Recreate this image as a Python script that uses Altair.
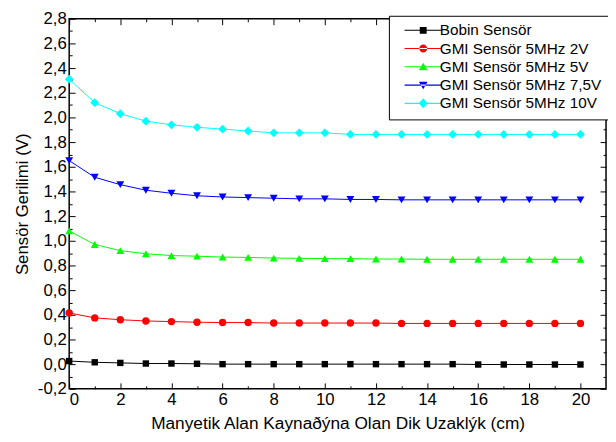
import altair as alt
import pandas as pd

# ---------------- data ----------------
x_cm = list(range(21))
series_names = ["Bobin Sensör", "GMI Sensör 5MHz 2V", "GMI Sensör 5MHz 5V",
                "GMI Sensör 5MHz 7,5V", "GMI Sensör 5MHz 10V"]
bobin = [0.025, 0.015, 0.01, 0.005, 0.005, 0.003, 0.0, 0.0, 0.0, 0.0, 0.0,
         0.0, 0.0, 0.0, 0.0, 0.0, -0.003, -0.003, -0.003, -0.003, -0.003]
gmi_2v = [0.415, 0.375, 0.36, 0.35, 0.345, 0.34, 0.337, 0.337, 0.333, 0.333, 0.333,
          0.333, 0.333, 0.33, 0.33, 0.33, 0.33, 0.33, 0.33, 0.33, 0.33]
gmi_5v = [1.08, 0.97, 0.92, 0.895, 0.88, 0.875, 0.868, 0.865, 0.86, 0.858, 0.855,
          0.855, 0.852, 0.852, 0.85, 0.85, 0.85, 0.85, 0.85, 0.85, 0.85]
gmi_75v = [1.65, 1.515, 1.455, 1.41, 1.385, 1.365, 1.355, 1.35, 1.345, 1.34, 1.34,
           1.335, 1.335, 1.332, 1.332, 1.332, 1.332, 1.332, 1.332, 1.332, 1.332]
gmi_10v = [2.31, 2.12, 2.03, 1.97, 1.94, 1.92, 1.905, 1.89, 1.875, 1.875, 1.875,
           1.862, 1.862, 1.862, 1.862, 1.862, 1.862, 1.862, 1.862, 1.862, 1.862]

x_major = list(range(0, 21, 2))
x_minor = list(range(1, 21, 2))
y_major = [round(-0.2 + 0.2 * i, 1) for i in range(16)]
y_minor = [round(-0.1 + 0.2 * i, 1) for i in range(15)]

x_title = "Manyetik Alan Kaynaðýna Olan Dik Uzaklýk (cm)"
y_title = "Sensör Gerilimi (V)"

# ---------------- styles ----------------
colors = ["#000000", "#ff0000", "#00ff00", "#0000ff", "#00ffff"]
shapes = ["square", "circle", "triangle-up", "triangle-down", "diamond"]
sizes = [42, 56, 64, 64, 80]
FONT = "Liberation Sans"

line_bar = "M-5.4,-0.15H5.4V0.15H-5.4Z "
legend_paths = [
    line_bar + "M-1,-1H1V1H-1Z",
    line_bar + "M-1.15,0A1.15,1.15 0 1,0 1.15,0A1.15,1.15 0 1,0 -1.15,0Z",
    line_bar + "M0,-1.2L1.25,0.95H-1.25Z",
    line_bar + "M0,1.2L1.25,-0.95H-1.25Z",
    line_bar + "M0,-1.45L1.3,0L0,1.45L-1.3,0Z",
]

rows = []
for name, vals in zip(series_names, [bobin, gmi_2v, gmi_5v, gmi_75v, gmi_10v]):
    for xv, yv in zip(x_cm, vals):
        rows.append({"x": xv, "y": yv, "series": name})
df = pd.DataFrame(rows)

xs = alt.Scale(domain=[0, 21], nice=False, zero=False)
ys = alt.Scale(domain=[-0.2, 2.8], nice=False, zero=False)
cs = alt.Scale(domain=series_names, range=colors)

comma_expr = "replace(replace(format(datum.value, '.1f'), '.', ','), '\u2212', '-')"


def tick_axis(orient, values, size, **kw):
    return alt.Axis(orient=orient, values=values, tickSize=size, offset=-size,
                    domain=False, grid=False, tickColor="black", tickWidth=1,
                    **kw)


no_lab = dict(labels=False, title=None)

lines = alt.Chart(df).mark_line(strokeWidth=1).encode(
    x=alt.X("x:Q", scale=xs, axis=tick_axis(
        "bottom", x_major, 6, labelPadding=3, labelFont=FONT, labelFontSize=17,
        labelColor="black", title=x_title, titleFont=FONT, titleFontSize=17.5,
        titleFontWeight="normal", titleColor="black", titlePadding=7)),
    y=alt.Y("y:Q", scale=ys, axis=tick_axis(
        "left", y_major, 6, labelPadding=3, labelFont=FONT, labelFontSize=17,
        labelColor="black", labelExpr=comma_expr, title=y_title, titleFont=FONT,
        titleFontSize=17, titleFontWeight="normal", titleColor="black",
        titlePadding=6)),
    color=alt.Color("series:N", scale=cs, legend=None),
)

point_layers = []
for i, (name, shp, sz) in enumerate(zip(series_names, shapes, sizes)):
    if i == 0:
        xa = tick_axis("top", x_major, 6, **no_lab)
        ya = tick_axis("right", y_major, 6, **no_lab)
    else:
        xa = None
        ya = None
    point_layers.append(
        alt.Chart(df).transform_filter(alt.datum.series == name)
        .mark_point(filled=True, opacity=1, shape=shp, size=sz).encode(
            x=alt.X("x:Q", scale=xs, axis=xa),
            y=alt.Y("y:Q", scale=ys, axis=ya),
            color=alt.Color("series:N", scale=cs, legend=None),
        )
    )

legend_props = dict(
    orient="none", legendX=324, legendY=-3, title=None,
    labelFont=FONT, labelFontSize=15.5, labelColor="black", labelLimit=300,
    symbolSize=49, symbolStrokeWidth=0, symbolOffset=20, labelOffset=9,
    strokeColor="black", fillColor="white", padding=7, rowPadding=1.5,
)

legend_layer = alt.Chart(df).transform_filter("false").mark_point(
    filled=True, opacity=1, size=49
).encode(
    x=alt.X("x:Q", scale=xs, axis=None),
    y=alt.Y("y:Q", scale=ys, axis=None),
    color=alt.Color("series:N", scale=cs, sort=series_names,
                    legend=alt.Legend(**legend_props)),
    shape=alt.Shape("series:N", sort=series_names,
                    scale=alt.Scale(domain=series_names, range=legend_paths),
                    legend=alt.Legend(**legend_props)),
)

minor_bl = alt.Chart(df).mark_point(opacity=0).encode(
    x=alt.X("x:Q", scale=xs, axis=tick_axis("bottom", x_minor, 3, **no_lab)),
    y=alt.Y("y:Q", scale=ys, axis=tick_axis("left", y_minor, 3, **no_lab)),
)
minor_tr = alt.Chart(df).mark_point(opacity=0).encode(
    x=alt.X("x:Q", scale=xs, axis=tick_axis("top", x_minor, 3, **no_lab)),
    y=alt.Y("y:Q", scale=ys, axis=tick_axis("right", y_minor, 3, **no_lab)),
)

chart = alt.layer(legend_layer, lines, *point_layers, minor_bl, minor_tr).resolve_axis(
    x="independent", y="independent"
).properties(
    width=544, height=375,
    autosize=alt.AutoSizeParams(type="none"),
    padding={"left": 62, "top": 8, "right": 2, "bottom": 50},
    background="white",
).configure_view(stroke="black", strokeWidth=1.5)

chart.save("out.html", embed_options={"renderer": "svg", "actions": False})
